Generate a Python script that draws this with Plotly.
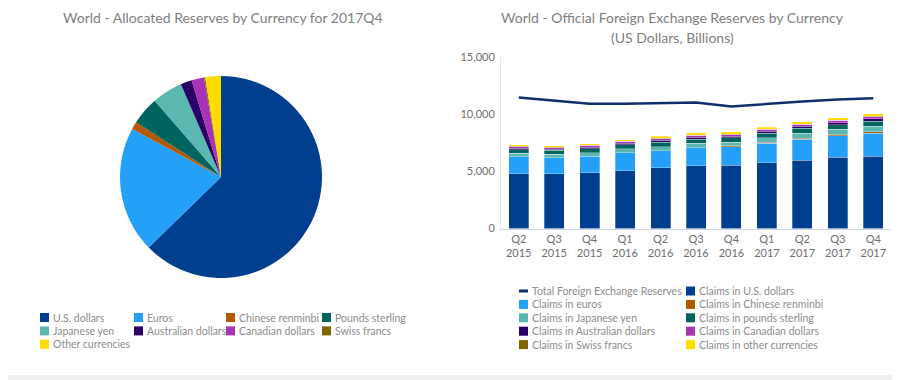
import plotly.graph_objects as go

# ---------------- data ----------------
pie_labels = ["U.S. dollars", "Euros", "Chinese renminbi", "Pounds sterling",
              "Japanese yen", "Australian dollars", "Canadian dollars",
              "Swiss francs", "Other currencies"]
pie_values = [62.7, 20.2, 1.2, 4.5, 4.9, 1.8, 2.0, 0.2, 2.5]
pie_colors = ["#003f8f", "#24a0f8", "#b35a00", "#00645e", "#5ab8b0",
              "#2a0066", "#a833b4", "#806400", "#ffdc00"]

quarters = ["Q2<br>2015", "Q3<br>2015", "Q4<br>2015", "Q1<br>2016", "Q2<br>2016",
            "Q3<br>2016", "Q4<br>2016", "Q1<br>2017", "Q2<br>2017", "Q3<br>2017",
            "Q4<br>2017"]

total_name = "Total Foreign Exchange Reserves"
total_color = "#0d2f6b"
total_reserves = [11460, 11170, 10910, 10910, 10990, 11020, 10680, 10910, 11110, 11290, 11400]

claims_usd = [4770, 4770, 4880, 5060, 5320, 5470, 5530, 5760, 5970, 6230, 6340]
claims_eur = [1520, 1430, 1460, 1580, 1490, 1610, 1610, 1700, 1840, 1870, 1990]
claims_cny = [None, None, None, None, None, None, 90, 90, 95, 110, 123]
claims_jpy = [280, 290, 300, 320, 350, 360, 330, 400, 440, 450, 490]
claims_gbp = [330, 335, 350, 360, 390, 380, 360, 380, 410, 430, 455]
claims_aud = [130, 125, 135, 145, 150, 160, 140, 160, 170, 170, 180]
claims_cad = [130, 125, 135, 150, 160, 165, 160, 175, 180, 190, 202]
claims_chf = [20, 20, 20, 20, 20, 20, 15, 15, 16, 16, 18]
claims_oth = [133, 128, 113, 117, 187, 202, 220, 184, 210, 213, 229]

bar_names = ["Claims in U.S. dollars", "Claims in euros", "Claims in Chinese renminbi",
             "Claims in Japanese yen", "Claims in pounds sterling",
             "Claims in Australian dollars", "Claims in Canadian dollars",
             "Claims in Swiss francs", "Claims in other currencies"]
bar_series = [claims_usd, claims_eur, claims_cny, claims_jpy, claims_gbp,
              claims_aud, claims_cad, claims_chf, claims_oth]
bar_colors = ["#003f8f", "#24a0f8", "#b35a00", "#5ab8b0", "#00645e",
              "#2a0066", "#a833b4", "#806400", "#ffdc00"]

y_ticks = [0, 5000, 10000, 15000]

# ---------------- layout helpers (page pixel -> paper coords) ----------------
OFF = 8                      # default body margin of the html page
W, H = 900 - OFF, 380 - OFF  # figure size so that it fills the window
ML, MR = 100 - OFF, 9
GW = W - ML - MR


def fx(p):
    return (p - OFF - ML) / GW


def fy(p):
    return 1 - (p - OFF) / H


FONT = "Lato, 'Noto Sans', sans-serif"
LEG_FONT = dict(family=FONT, size=10.5, color="#8c8c8c")
TITLE_FONT = dict(family=FONT, size=14, color="#7f7f7f")

fig = go.Figure()

fig.add_trace(go.Pie(
    labels=pie_labels, values=pie_values, sort=False, direction="clockwise",
    rotation=0, textinfo="none", marker=dict(colors=pie_colors),
    domain=dict(x=[fx(120), fx(322)], y=[fy(278), fy(76)]),
    showlegend=False, hovertemplate="%{label}: %{percent}<extra></extra>",
))

fig.add_trace(go.Scatter(
    x=quarters, y=total_reserves, mode="lines",
    line=dict(color=total_color, width=2.5),
    name=total_name, showlegend=False,
))

for name, vals, col in zip(bar_names, bar_series, bar_colors):
    fig.add_trace(go.Bar(
        x=quarters, y=vals, name=name, showlegend=False,
        marker=dict(color=col, line=dict(width=0.5, color="rgba(255,255,255,0.6)")),
    ))

shapes = [dict(type="rect", xref="paper", yref="paper", x0=fx(1), x1=fx(898),
               y0=fy(375), y1=fy(2), fillcolor="white", line=dict(width=0),
               layer="below")]
annotations = [
    dict(text="World - Allocated Reserves by Currency for 2017Q4", x=fx(223), y=fy(OFF),
         yanchor="top"),
    dict(text="World - Official Foreign Exchange Reserves by Currency", x=fx(672), y=fy(OFF),
         yanchor="top"),
    dict(text="(US Dollars, Billions)", x=fx(672), y=fy(37), yanchor="middle"),
]
for a in annotations:
    a.update(xref="paper", yref="paper", showarrow=False, xanchor="center",
             borderpad=0, font=TITLE_FONT)

SYM = 9
ROW = 13.4


def legend_item(x_sym, y_c, label, color, kind="square"):
    if kind == "line":
        shapes.append(dict(type="line", xref="paper", yref="paper",
                           x0=fx(x_sym), x1=fx(x_sym + SYM), y0=fy(y_c), y1=fy(y_c),
                           line=dict(color=color, width=3)))
    else:
        shapes.append(dict(type="rect", xref="paper", yref="paper",
                           x0=fx(x_sym), x1=fx(x_sym + SYM),
                           y0=fy(y_c + SYM / 2), y1=fy(y_c - SYM / 2),
                           fillcolor=color, line=dict(width=0)))
    annotations.append(dict(text=label, x=fx(x_sym + SYM + 1.5), y=fy(y_c),
                            xref="paper", yref="paper", showarrow=False,
                            xanchor="left", yanchor="middle", font=LEG_FONT))


# pie legend: 4 columns, row-major
pie_leg_cols = [40, 134, 226, 322]
for k, (lab, col) in enumerate(zip(pie_labels, pie_colors)):
    r, c = divmod(k, 4)
    legend_item(pie_leg_cols[c], 317.5 + r * ROW, lab, col)

# bar chart legend: 2 columns, row-major
bar_leg_cols = [519, 686]
leg_entries = [(total_name, total_color, "line")] + \
    [(n, c, "square") for n, c in zip(bar_names, bar_colors)]
for k, (lab, col, kind) in enumerate(leg_entries):
    r, c = divmod(k, 2)
    legend_item(bar_leg_cols[c], 291 + r * ROW, lab, col, kind)

fig.update_layout(
    width=W, height=H,
    margin=dict(l=ML, r=MR, t=0, b=0, autoexpand=False),
    paper_bgcolor="#efefef", plot_bgcolor="white",
    font=dict(family=FONT, color="#6e6e6e"),
    barmode="stack", bargap=0.436, showlegend=False,
    xaxis=dict(domain=[fx(501), fx(891)], type="category", showline=True,
               linecolor="#ccd6eb", linewidth=1, ticks="", showgrid=False,
               tickfont=dict(size=11, color="#6e6e6e")),
    yaxis=dict(domain=[fy(228.5), fy(57)], range=[0, 15000], tickvals=y_ticks,
               tickformat=",", showline=True, linecolor="#e6e6e6", showgrid=False,
               zeroline=False, ticks="", ticklabelstandoff=3,
               tickfont=dict(size=11, color="#6e6e6e")),
    shapes=shapes,
    annotations=annotations,
)

fig.write_html("out.html")
